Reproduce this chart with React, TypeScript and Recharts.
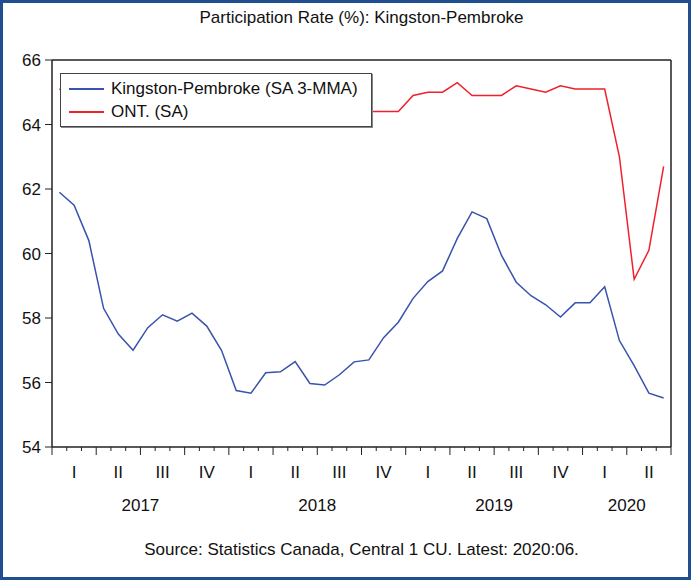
import { LineChart, Line, XAxis, YAxis, ReferenceLine, Legend } from 'recharts';

const periods = [
  '2017:01', '2017:02', '2017:03', '2017:04', '2017:05', '2017:06',
  '2017:07', '2017:08', '2017:09', '2017:10', '2017:11', '2017:12',
  '2018:01', '2018:02', '2018:03', '2018:04', '2018:05', '2018:06',
  '2018:07', '2018:08', '2018:09', '2018:10', '2018:11', '2018:12',
  '2019:01', '2019:02', '2019:03', '2019:04', '2019:05', '2019:06',
  '2019:07', '2019:08', '2019:09', '2019:10', '2019:11', '2019:12',
  '2020:01', '2020:02', '2020:03', '2020:04', '2020:05', '2020:06',
];

const kingston = [
  61.9, 61.5, 60.4, 58.3, 57.5, 57.0, 57.7, 58.1, 57.9, 58.15, 57.75, 57.0,
  55.75, 55.67, 56.3, 56.33, 56.65, 55.97, 55.92, 56.24, 56.64, 56.7, 57.39, 57.87,
  58.61, 59.13, 59.46, 60.47, 61.29, 61.08, 59.94, 59.11, 58.69, 58.41, 58.03, 58.47,
  58.47, 58.97, 57.3, 56.52, 55.67, 55.52,
];

const ontario = [
  65.1, 64.9, 64.8, 64.7, 64.6, 64.8, 64.6, 64.8, 64.7, 64.6, 64.7, 64.6,
  64.6, 64.8, 64.7, 64.4, 64.5, 64.5, 64.7, 64.6, 64.5, 64.4, 64.4, 64.4,
  64.9, 65.0, 65.0, 65.3, 64.9, 64.9, 64.9, 65.2, 65.1, 65.0, 65.2, 65.1,
  65.1, 65.1, 63.0, 59.2, 60.1, 62.7,
];

const quarterLabels = ['I', 'II', 'III', 'IV'];
const yTicks = [54, 56, 58, 60, 62, 64, 66];

const title = 'Participation Rate (%): Kingston-Pembroke';
const source = 'Source: Statistics Canada, Central 1 CU. Latest: 2020:06.';

const FONT = '"Liberation Sans", Arial, sans-serif';
const BLUE = '#3853ad';
const RED = '#f0202c';

const series = [
  { key: 'kingston', name: 'Kingston-Pembroke (SA 3-MMA)', color: BLUE },
  { key: 'ontario', name: 'ONT. (SA)', color: RED },
];

// months sit in the middle of their slot, like the original
const data = periods.map((p, i) => ({
  x: i + 0.5,
  period: p,
  kingston: kingston[i],
  ontario: ontario[i],
}));

const years = Array.from(new Set(periods.map((p) => p.slice(0, 4))));
const yearCentres = years.map((yr) => {
  const idx = periods.map((p, i) => (p.startsWith(yr) ? i : -1)).filter((i) => i >= 0);
  return (idx[0] + idx[idx.length - 1] + 1) / 2;
});

const monthTicks = periods.map((_, i) => i).concat([periods.length]);
const quarterTicks = periods
  .map((_, i) => i)
  .filter((i) => i % 3 === 1)
  .map((i) => i + 0.5);
const xTicks = [...monthTicks, ...quarterTicks].sort((a, b) => a - b);

function MonthTick(props: any) {
  const { x, y, payload } = props;
  const v = payload.value as number;
  if (Number.isInteger(v)) {
    const yi = yearCentres.indexOf(v);
    return (
      <g>
        <line x1={x} x2={x} y1={y} y2={y + (v % 3 === 0 ? 8 : 4)} stroke="#222" />
        {yi >= 0 && (
          <text x={x} y={y + 64} textAnchor="middle" fontSize={17} fontFamily={FONT} fill="#111">
            {years[yi]}
          </text>
        )}
      </g>
    );
  }
  const q = Math.floor(v / 3) % 4;
  return (
    <text x={x} y={y + 31} textAnchor="middle" fontSize={17} fontFamily={FONT} fill="#111">
      {quarterLabels[q]}
    </text>
  );
}

function LegendBox() {
  return (
    <div
      style={{
        width: '100%',
        height: '100%',
        boxSizing: 'border-box',
        border: '1px solid #444',
        boxShadow: '1px 1px 0 #888',
        background: '#fff',
        padding: '3px 0 0 8px',
        fontFamily: FONT,
        fontSize: 17,
        color: '#111',
      }}
    >
      {series.map((s) => (
        <div key={s.key} style={{ display: 'flex', alignItems: 'center', height: 23 }}>
          <div style={{ width: 35, height: 2, background: s.color, marginRight: 7, flexShrink: 0 }} />
          <span>{s.name}</span>
        </div>
      ))}
    </div>
  );
}

export default function App() {
  return (
    <div style={{ position: 'relative', width: 691, height: 580, background: '#fff' }}>
      <style>{'body{margin:0}'}</style>
      <div
        style={{
          position: 'absolute',
          left: 52,
          width: 619,
          top: 7,
          textAlign: 'center',
          fontFamily: FONT,
          fontSize: 17,
          lineHeight: '22px',
          color: '#111',
        }}
      >
        {title}
      </div>
      <LineChart
        width={691}
        height={580}
        data={data}
        margin={{ top: 60, right: 20, left: 0, bottom: 0 }}
      >
        <XAxis
          dataKey="x"
          type="number"
          domain={[0, periods.length]}
          ticks={xTicks}
          interval={0}
          tick={<MonthTick />}
          tickLine={false}
          tickSize={0}
          tickMargin={0}
          height={133}
          axisLine={{ stroke: '#222', strokeWidth: 1.5 }}
        />
        <YAxis
          domain={[54, 66]}
          ticks={yTicks}
          interval={0}
          width={52}
          tickSize={7}
          tickMargin={4}
          tick={{ fill: '#111', fontSize: 17, fontFamily: FONT }}
          tickLine={{ stroke: '#222' }}
          axisLine={{ stroke: '#222', strokeWidth: 1.5 }}
        />
        <ReferenceLine y={66} stroke="#222" strokeWidth={1.5} />
        <ReferenceLine x={periods.length} stroke="#222" strokeWidth={1.5} />
        {series.map((s) => (
          <Line
            key={s.key}
            dataKey={s.key}
            name={s.name}
            stroke={s.color}
            strokeWidth={1.5}
            dot={false}
            isAnimationActive={false}
          />
        ))}
        <Legend
          layout="vertical"
          align="center"
          verticalAlign="middle"
          wrapperStyle={{ left: 60, top: 73, width: 312, height: 54 }}
          content={<LegendBox />}
        />
      </LineChart>
      <div
        style={{
          position: 'absolute',
          left: 52,
          width: 619,
          top: 539,
          textAlign: 'center',
          fontFamily: FONT,
          fontSize: 17,
          lineHeight: '22px',
          color: '#111',
        }}
      >
        {source}
      </div>
      <div
        style={{
          position: 'absolute',
          inset: 0,
          border: '3px solid #1f4f8f',
          pointerEvents: 'none',
        }}
      />
    </div>
  );
}
